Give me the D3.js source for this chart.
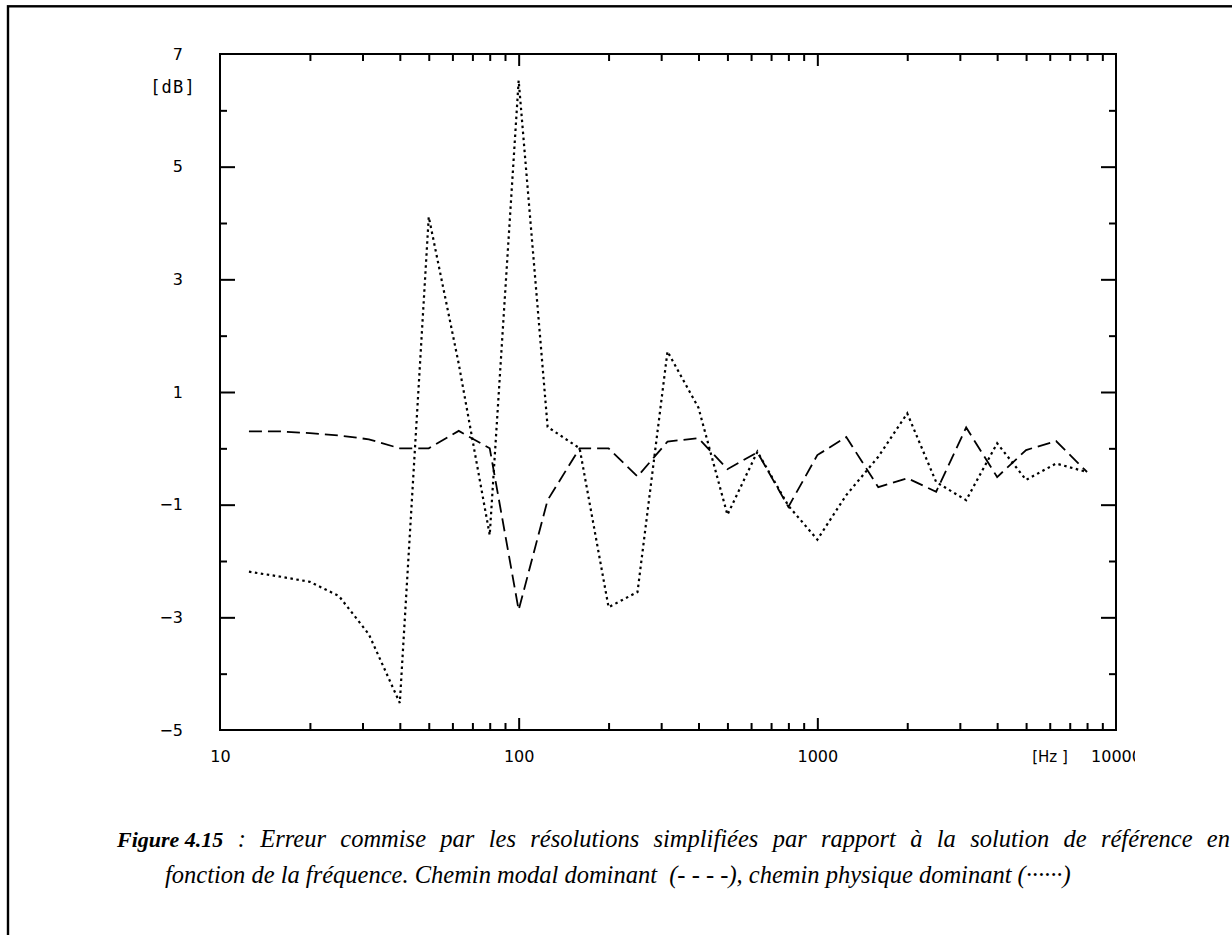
<!DOCTYPE html>
<html>
<head>
<meta charset="utf-8">
<script src="https://cdn.jsdelivr.net/npm/d3@7"></script>
<style>
  html, body { margin: 0; padding: 0; background: #fff; }
  svg { display: block; }
  .tick text { font-family: "DejaVu Sans", "Liberation Sans", sans-serif; }
</style>
</head>
<body>
<svg id="chart" width="1232" height="935"></svg>
<script>
// ---- data (third-octave centre frequencies, Hz) ----
const freqs = [12.5, 16, 20, 25, 31.5, 40, 50, 63, 80, 100, 125, 160, 200, 250, 315, 400, 500, 630, 800, 1000, 1250, 1600, 2000, 2500, 3150, 4000, 5000, 6300, 8000];
// Chemin modal dominant (- - - -)
const modalErr = [0.30, 0.30, 0.27, 0.23, 0.16, 0.00, 0.00, 0.31, 0.00, -2.87, -0.92, 0.00, 0.00, -0.50, 0.12, 0.18, -0.37, -0.07, -1.04, -0.12, 0.20, -0.69, -0.53, -0.77, 0.37, -0.51, -0.03, 0.13, -0.42];
// Chemin physique dominant (······)
const physErr = [-2.19, -2.28, -2.37, -2.62, -3.30, -4.52, 4.11, 1.50, -1.54, 6.53, 0.38, 0.00, -2.82, -2.55, 1.72, 0.72, -1.18, -0.06, -1.02, -1.62, -0.83, -0.15, 0.62, -0.60, -0.92, 0.09, -0.56, -0.27, -0.42];

const xLabelTicks = [10, 100, 1000, 10000];
const xMinorTicks = [20, 30, 40, 50, 60, 70, 80, 90, 200, 300, 400, 500, 600, 700, 800, 900, 2000, 3000, 4000, 5000, 6000, 7000, 8000, 9000];
const xMajorTicks = [100, 1000];
const yLabelTicks = [-5, -3, -1, 1, 3, 5, 7];
const yMinorTicks = [-4, -2, 0, 2, 4, 6];
const yUnit = "[dB]";
const xUnit = "[Hz ]";
const captionBold = "Figure 4.15";
const captionLine1 = " : Erreur commise par les résolutions simplifiées par rapport à la solution de référence en";
const captionLine2 = "fonction de la fréquence. Chemin modal dominant\u00A0 (- - - -), chemin physique dominant (······)";

// ---- layout ----
const L = 220, R = 1116, T = 54, B = 730;
const svg = d3.select("#chart");

// outer frame (partly off-page)
svg.append("rect")
  .attr("x", 8).attr("y", 6.3).attr("width", 1400).attr("height", 1200)
  .attr("fill", "none").attr("stroke", "#000").attr("stroke-width", 2.4);

const x = d3.scaleLog().domain([10, 10000]).range([L, R]);
const y = d3.scaleLinear().domain([-5, 7]).range([B, T]);

function styleAxis(g) {
  g.select(".domain").remove();
  g.selectAll(".tick line").attr("stroke", "#000").attr("stroke-width", 2);
  g.selectAll(".tick text").attr("fill", "#000").attr("font-size", 16);
}

// tick marks (inward) on all four sides
const yLong = yLabelTicks.filter(v => v > -5 && v < 7);
const tickAxes = [
  [d3.axisBottom(x).tickValues(xMinorTicks).tickSize(-7), `translate(0,${B})`],
  [d3.axisBottom(x).tickValues(xMajorTicks).tickSize(-12), `translate(0,${B})`],
  [d3.axisTop(x).tickValues(xMinorTicks).tickSize(-7), `translate(0,${T})`],
  [d3.axisTop(x).tickValues(xMajorTicks).tickSize(-12), `translate(0,${T})`],
  [d3.axisLeft(y).tickValues(yLong).tickSize(-15), `translate(${L},0)`],
  [d3.axisLeft(y).tickValues(yMinorTicks).tickSize(-7), `translate(${L},0)`],
  [d3.axisRight(y).tickValues(yLong).tickSize(-15), `translate(${R},0)`],
  [d3.axisRight(y).tickValues(yMinorTicks).tickSize(-7), `translate(${R},0)`]
];
tickAxes.forEach(([ax, tr]) => {
  svg.append("g").attr("transform", tr).call(ax.tickFormat("")).call(styleAxis);
});

// labels
const clip = svg.append("clipPath").attr("id", "xlabClip");
clip.append("rect").attr("x", 0).attr("y", 0).attr("width", 1135).attr("height", 935);

svg.append("g").attr("transform", `translate(0,${B})`).attr("clip-path", "url(#xlabClip)")
  .call(d3.axisBottom(x).tickValues(xLabelTicks).tickSize(0).tickPadding(21).tickFormat(d3.format("d")))
  .call(styleAxis);

svg.append("g").attr("transform", `translate(${L},0)`)
  .call(d3.axisLeft(y).tickValues(yLabelTicks).tickSize(0).tickPadding(37).tickFormat(d => d < 0 ? "\u2212" + Math.abs(d) : d))
  .call(styleAxis);

svg.append("text").attr("x", 173).attr("y", 87).attr("dy", "0.35em")
  .attr("text-anchor", "middle").attr("font-family", "DejaVu Sans Mono, monospace").attr("font-size", 17)
  .attr("letter-spacing", 1.2)
  .text(yUnit);
svg.append("text").attr("x", 1050).attr("y", 757).attr("dy", "0.35em")
  .attr("text-anchor", "middle").attr("font-family", "DejaVu Sans, sans-serif").attr("font-size", 15)
  .text(xUnit.replace(" ", "\u00A0"));

// plot frame
svg.append("rect").attr("x", L).attr("y", T).attr("width", R - L).attr("height", B - T)
  .attr("fill", "none").attr("stroke", "#000").attr("stroke-width", 2);

// series
const line = d3.line().x(d => x(d[0])).y(d => y(d[1]));
svg.append("path").datum(freqs.map((f, i) => [f, modalErr[i]]))
  .attr("d", line).attr("fill", "none").attr("stroke", "#000")
  .attr("stroke-width", 1.8).attr("stroke-dasharray", "13,6");
svg.append("path").datum(freqs.map((f, i) => [f, physErr[i]]))
  .attr("d", line).attr("fill", "none").attr("stroke", "#000")
  .attr("stroke-width", 2.2).attr("stroke-dasharray", "2.5,3.5");

// caption (first line justified to the right edge, like the source)
const cap = svg.append("g").attr("font-family", "'Liberation Serif', 'Times New Roman', serif")
  .attr("font-style", "italic").attr("font-size", 24.5);
const t1 = cap.append("text").attr("x", 117).attr("y", 847);
t1.append("tspan").attr("font-weight", "bold").attr("font-size", 22).text(captionBold);
const t1b = t1.append("tspan").text(captionLine1);
const w1 = t1.node().getComputedTextLength();
const nSpaces = captionLine1.split(" ").length - 1;
const targetRight = 1230;
const extra = (targetRight - 117 - w1) / nSpaces;
if (extra > 0) t1b.attr("word-spacing", extra);
cap.append("text").attr("x", 165).attr("y", 883).text(captionLine2);
</script>
</body>
</html>
